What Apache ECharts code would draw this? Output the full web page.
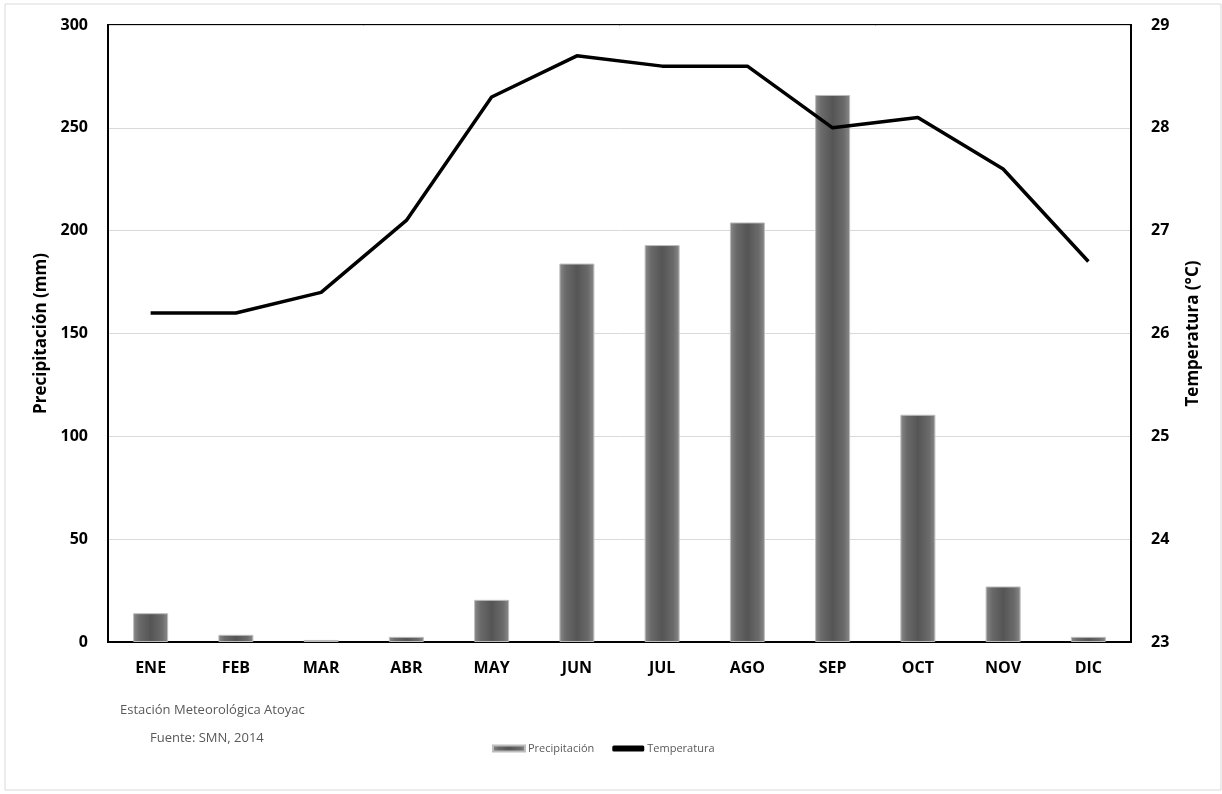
<!DOCTYPE html>
<html><head><meta charset="utf-8">
<script src="https://cdn.jsdelivr.net/npm/echarts@6/dist/echarts.min.js"></script>
<style>html,body{margin:0;padding:0;background:#fff}#c{width:1222px;height:794px}</style>
</head><body><div id="c"></div>
<script>
const months = ['ENE','FEB','MAR','ABR','MAY','JUN','JUL','AGO','SEP','OCT','NOV','DIC'];
const precipitacion = [14, 3.5, 1, 2.5, 20.5, 184, 193, 204, 266, 110.5, 27, 2.5];
const temperatura = [26.2, 26.2, 26.4, 27.1, 28.3, 28.7, 28.6, 28.6, 28.0, 28.1, 27.6, 26.7];
const leftTicks = [0, 300, 50];
const rightTicks = [23, 29, 1];

const chart = echarts.init(document.getElementById('c'), null, {renderer:'canvas'});
const FONT = '"Open Sans", "Liberation Sans", sans-serif';
const barColor = new echarts.graphic.LinearGradient(0,0,1,0,[
  {offset:0,color:'#8a8a8a'},{offset:0.18,color:'#6a6a6a'},{offset:0.5,color:'#555555'},
  {offset:0.82,color:'#6a6a6a'},{offset:1,color:'#8a8a8a'}]);
chart.setOption({
  animation:false,
  grid:{left:108,right:91,top:25,bottom:152,show:true,borderColor:'#000',borderWidth:2,backgroundColor:'transparent'},
  legend:{
    bottom:35,left:487,itemGap:18,itemWidth:32,itemHeight:6,
    textStyle:{fontFamily:FONT,fontSize:11,color:'#595959',padding:[0,0,0,-2]},
    data:[{name:'Precipitación',icon:'rect'},{name:'Temperatura',icon:'roundRect'}]
  },
  graphic:[
    {type:'rect',shape:{x:5,y:4,width:1216,height:786},style:{fill:'none',stroke:'#d9d9d9',lineWidth:1},silent:true,z:-1},
    {type:'text',left:120,top:704,style:{text:'Estación Meteorológica Atoyac',fontFamily:FONT,fontSize:13,fill:'#595959'}},
    {type:'text',left:150,top:732,style:{text:'Fuente: SMN, 2014',fontFamily:FONT,fontSize:13,fill:'#595959'}}
  ],
  xAxis:{
    type:'category',data:months,
    axisLine:{show:true,lineStyle:{color:'#000',width:2}},
    axisTick:{show:false},
    axisLabel:{margin:18,fontFamily:FONT,fontWeight:'bold',fontSize:16,color:'#000'}
  },
  yAxis:[
    {type:'value',min:leftTicks[0],max:leftTicks[1],interval:leftTicks[2],
     name:'Precipitación (mm)',nameLocation:'middle',nameGap:56,nameRotate:90,
     nameTextStyle:{fontFamily:FONT,fontWeight:'bold',fontSize:17,color:'#000'},
     axisLine:{show:true,lineStyle:{color:'#000',width:2}},axisTick:{show:false},
     axisLabel:{margin:20,fontFamily:FONT,fontWeight:'bold',fontSize:16,color:'#000'},
     splitLine:{lineStyle:{color:'#d9d9d9',width:1}}},
    {type:'value',min:rightTicks[0],max:rightTicks[1],interval:rightTicks[2],
     name:'Temperatura (°C)',nameLocation:'middle',nameGap:54,nameRotate:90,
     nameTextStyle:{fontFamily:FONT,fontWeight:'bold',fontSize:17,color:'#000'},
     axisLine:{show:true,lineStyle:{color:'#000',width:2}},axisTick:{show:false},
     axisLabel:{margin:20,fontFamily:FONT,fontWeight:'bold',fontSize:16,color:'#000'},
     splitLine:{show:false}}
  ],
  series:[
    {name:'Precipitación',type:'bar',data:precipitacion,barWidth:35,yAxisIndex:0,
     itemStyle:{color:barColor,borderColor:'#bdbdbd',borderWidth:1}},
    {name:'Temperatura',type:'line',data:temperatura,yAxisIndex:1,symbol:'none',
     lineStyle:{color:'#000',width:3.5},itemStyle:{color:'#000'},z:5}
  ]
});
</script></body></html>
